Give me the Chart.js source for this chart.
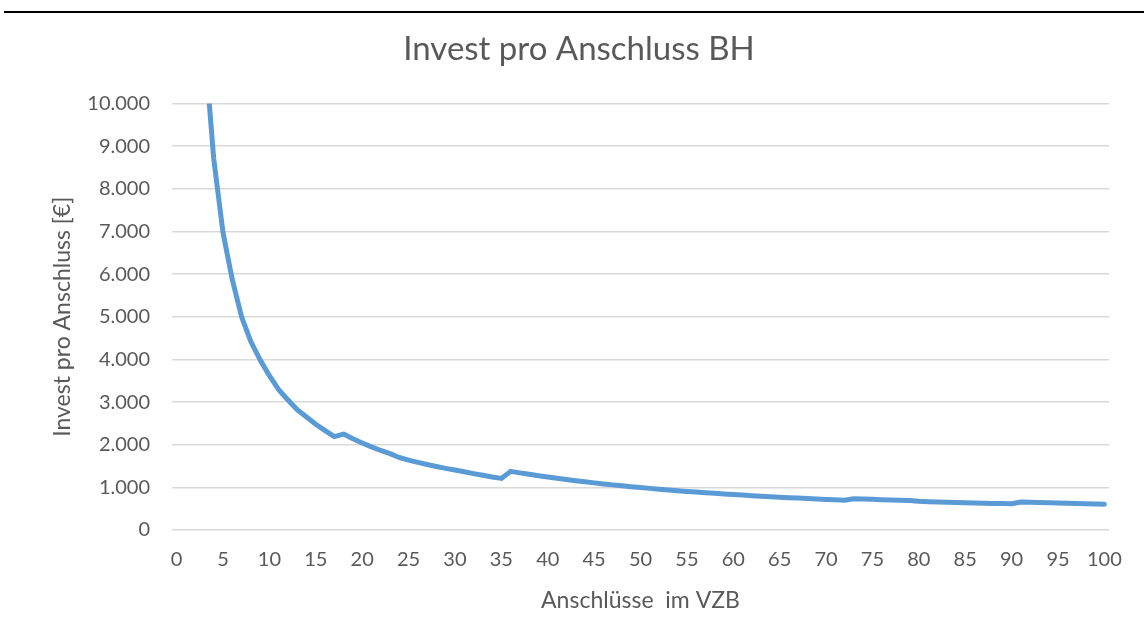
<!DOCTYPE html>
<html>
<head>
<meta charset="utf-8">
<script src="https://cdn.jsdelivr.net/npm/chart.js@4.4.1/dist/chart.umd.min.js"></script>
<style>
  body { margin: 0; background: #fff; }
  #wrap { position: relative; width: 1144px; height: 626px; }
  #topline { position: absolute; left: 4px; right: 0; top: 11px; height: 2px; background: #000; }
</style>
</head>
<body>
<div id="wrap">
  <canvas id="chart" width="1144" height="626"></canvas>
  <div id="topline"></div>
</div>
<script>
// Anschlüsse im VZB (x categories)
const anschluesse = [
  0, 1, 2, 3, 4, 5, 6, 7, 8, 9, 10, 11, 12, 13, 14, 15, 16, 17, 18, 19, 20,
  21, 22, 23, 24, 25, 26, 27, 28, 29, 30, 31, 32, 33, 34, 35, 36, 37, 38, 39, 40,
  41, 42, 43, 44, 45, 46, 47, 48, 49, 50, 51, 52, 53, 54, 55, 56, 57, 58, 59, 60,
  61, 62, 63, 64, 65, 66, 67, 68, 69, 70, 71, 72, 73, 74, 75, 76, 77, 78, 79, 80,
  81, 82, 83, 84, 85, 86, 87, 88, 89, 90, 91, 92, 93, 94, 95, 96, 97, 98, 99, 100
];

// Invest pro Anschluss [€]
const investProAnschluss = [
  null, null, null, 11400, 8700, 6970, 5870, 5000, 4420, 3990, 3620,
  3290, 3050, 2820, 2650, 2480, 2330, 2190, 2250, 2140, 2040,
  1950, 1865, 1790, 1700, 1640, 1585, 1535, 1488, 1445, 1408,
  1366, 1323, 1283, 1245, 1210, 1375, 1340, 1306, 1273, 1241,
  1212, 1183, 1156, 1130, 1105, 1081, 1058, 1036, 1015, 995,
  976, 957, 939, 922, 905, 890, 874, 860, 846, 832,
  819, 806, 794, 782, 770, 759, 748, 738, 728, 718,
  708, 699, 735, 727, 720, 712, 705, 697, 690, 672,
  665, 658, 652, 646, 640, 635, 630, 624, 619, 614,
  655, 649, 643, 637, 631, 625, 620, 615, 610, 605
];

const xTickStep = 5;
const yTicks = [0, 1000, 2000, 3000, 4000, 5000, 6000, 7000, 8000, 9000, 10000];

const textColor = "#595959";
const gridColor = "#d9d9d9";
const fontFamily = "Lato, 'Noto Sans', sans-serif";

function formatDe(v) {
  return String(v).replace(/\B(?=(\d{3})+(?!\d))/g, ".");
}

const chart = new Chart(document.getElementById("chart"), {
  type: "line",
  data: {
    labels: anschluesse,
    datasets: [{
      label: "Invest pro Anschluss",
      data: investProAnschluss,
      borderColor: "#5b9bd5",
      backgroundColor: "#5b9bd5",
      borderWidth: 5,
      borderCapStyle: "round",
      borderJoinStyle: "round",
      pointRadius: 0,
      tension: 0
    }]
  },
  options: {
    responsive: false,
    animation: false,
    layout: { padding: { left: 49, right: 35, top: 0, bottom: 0 } },
    plugins: {
      legend: { display: false },
      tooltip: { enabled: false },
      title: {
        display: true,
        text: "Invest pro Anschluss BH",
        color: textColor,
        font: { family: fontFamily, size: 33, weight: "normal" },
        padding: { top: 30, bottom: 34 }
      }
    },
    scales: {
      x: {
        type: "category",
        offset: true,
        grid: { display: false, drawTicks: false },
        border: { display: false },
        ticks: {
          autoSkip: false,
          maxRotation: 0,
          color: textColor,
          font: { family: fontFamily, size: 20 },
          padding: 18,
          callback: function (value, index) {
            const lbl = anschluesse[index];
            return lbl % xTickStep === 0 ? String(lbl) : null;
          }
        },
        title: {
          display: true,
          text: "Anschlüsse  im VZB",
          color: textColor,
          font: { family: fontFamily, size: 23 },
          padding: { top: 2, bottom: 12 }
        },
        afterFit: function (scale) { scale.height = 96; }
      },
      y: {
        min: 0,
        max: 10000,
        afterBuildTicks: function (scale) {
          scale.ticks = yTicks.map(v => ({ value: v }));
        },
        grid: { color: gridColor, lineWidth: 1.5, drawTicks: false },
        border: { display: false },
        ticks: {
          color: textColor,
          font: { family: fontFamily, size: 20 },
          padding: 22,
          callback: function (value) { return formatDe(value); }
        },
        title: {
          display: true,
          text: "Invest pro Anschluss [€]",
          color: textColor,
          font: { family: fontFamily, size: 23 },
          padding: { top: 0, bottom: 0 }
        },
        afterFit: function (scale) { scale.width = 123; }
      }
    }
  }
});
</script>
</body>
</html>
